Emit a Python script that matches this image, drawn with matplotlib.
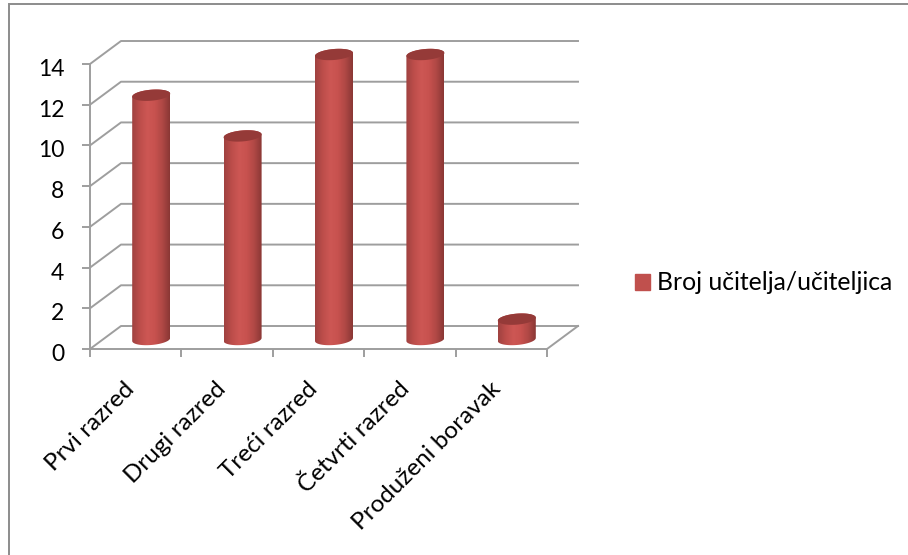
import numpy as np
import matplotlib
matplotlib.use('Agg')
import matplotlib.pyplot as plt
from matplotlib.patches import PathPatch, Patch, Rectangle
from matplotlib.path import Path
from matplotlib.colors import LinearSegmentedColormap
from matplotlib.transforms import ScaledTranslation

plt.rcParams['font.family'] = ['Lato', 'DejaVu Sans']

# data
categories = ['Prvi razred', 'Drugi razred', 'Treći razred', 'Četvrti razred', 'Produženi boravak']
values = [12, 10, 14, 14, 1]
yticks = [0, 2, 4, 6, 8, 10, 12, 14]
series_name = 'Broj učitelja/učiteljica'

grid_col = '#9e9e9e'
body_cmap = LinearSegmentedColormap.from_list('body', ['#9f4240', '#bc4d4a', '#cd5754', '#c8524f', '#b04845', '#8a3735'])
top_col = '#953a38'

W, H = 908, 555
fig = plt.figure(figsize=(W / 100, H / 100), dpi=100)
ax = fig.add_axes([90 / W, 1 - 349 / H, 457 / W, 285 / H])
ax.set_xlim(0, 5)
ax.set_ylim(0, 14)

# 3d depth offset in data units
dx = 31 / 91.4
dy = 23 / 20.36

# back wall grid and side diagonals
for y in yticks:
    ax.plot([0, dx, 5 + dx], [y, y + dy, y + dy], color=grid_col, lw=1.4, clip_on=False, zorder=1)
ax.plot([5, 5 + dx], [0, dy], color=grid_col, lw=1.4, clip_on=False, zorder=1)

# cylinders
bw = 19 / 91.4       # half width
bh = 5.5 / 20.36     # half height of ellipse
tilt = 1.5 / 20.36   # rise of the ellipse at its right edge
off_x = 15.5 / 91.4
off_y = 9.5 / 20.36
t = np.linspace(0, 2 * np.pi, 80)
grad = np.linspace(0, 1, 128).reshape(1, -1)

for i, v in enumerate(values):
    cx = i + 0.5 + off_x
    y0 = off_y
    y1 = v + off_y
    # lower half of bottom ellipse, then upper half of top ellipse
    tb = np.linspace(np.pi, 2 * np.pi, 40)
    tt = np.linspace(0, np.pi, 40)
    xs = np.r_[cx + bw * np.cos(tb), cx + bw * np.cos(tt)]
    ys = np.r_[y0 + bh * np.sin(tb) + tilt * np.cos(tb), y1 + bh * np.sin(tt) + tilt * np.cos(tt)]
    body = PathPatch(Path(np.c_[xs, ys]), fc='none', ec='none', transform=ax.transData)
    ax.add_patch(body)
    im = ax.imshow(grad, cmap=body_cmap, aspect='auto', zorder=3,
                   extent=[cx - bw, cx + bw, y0 - 1, y1 + 1])
    im.set_clip_box(fig.bbox)
    im.set_clip_path(body)
    ax.fill(cx + bw * np.cos(t), y1 + bh * np.sin(t) + tilt * np.cos(t), color=top_col, lw=0, zorder=4, clip_on=False)

ax.set_xlim(0, 5)
ax.set_ylim(0, 14)

# axes
for s in ['top', 'right']:
    ax.spines[s].set_visible(False)
for s in ['left', 'bottom']:
    ax.spines[s].set_color(grid_col)
    ax.spines[s].set_linewidth(1.4)
    ax.spines[s].set_zorder(2)
ax.patch.set_alpha(0)

ax.set_yticks(yticks)
ax.set_xticks(range(6))
ax.set_xticklabels([])
# labels sit a bit left of the category centre
ax.set_xticks(np.arange(5) + 0.37, minor=True)
ax.set_xticklabels(categories, minor=True, rotation=45, ha='right', va='top', rotation_mode='anchor')
ax.tick_params(axis='both', which='major', color=grid_col, width=1.4, length=5.5, labelsize=16.5, pad=13)
ax.tick_params(axis='x', which='minor', length=0, labelsize=17.5, pad=21)
# y labels sit slightly below their ticks
for lab in ax.get_yticklabels():
    lab.set_transform(lab.get_transform() + ScaledTranslation(0, -2.5 / 72, fig.dpi_scale_trans))

# legend
fig.legend(handles=[Patch(color='#c0504d', label=series_name)], loc='center left',
           bbox_to_anchor=(635 / W, 1 - 283 / H), frameon=False, fontsize=17.8,
           handlelength=0.62, handleheight=0.62, handletextpad=0.29, borderpad=0, borderaxespad=0)

# chart border
fig.add_artist(Rectangle((8.5 / W, -0.1), 1.1, 1.1 - 4.5 / H, transform=fig.transFigure,
                         fc='none', ec='#8c8c8c', lw=1.4))

fig.savefig('out.png', dpi=100)
